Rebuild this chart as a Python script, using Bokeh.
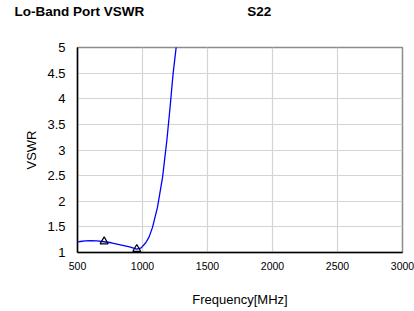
from bokeh.plotting import figure
from bokeh.models import FixedTicker, LinearAxis, Range1d
from bokeh.embed import file_html
from bokeh.resources import INLINE

# Data
freq_mhz = [500, 520, 560, 600, 650, 705, 760, 830, 900, 956, 990, 1025, 1050, 1077, 1115, 1154, 1187, 1212, 1235, 1262]
vswr = [1.20, 1.215, 1.225, 1.23, 1.228, 1.21, 1.19, 1.15, 1.11, 1.066, 1.09, 1.19, 1.30, 1.49, 1.88, 2.46, 3.18, 3.83, 4.48, 5.07]
marker_freq = [705, 956]
marker_vswr = [1.215, 1.066]
x_ticks = [500, 1000, 1500, 2000, 2500, 3000]
y_ticks = [1, 1.5, 2, 2.5, 3, 3.5, 4, 4.5, 5]
y_labels = ["1", "1.5", "2", "2.5", "3", "3.5", "4", "4.5", "5"]
title_texts = ["Lo-Band Port VSWR", "S22"]

FONT = "Liberation Sans"
W, H = 414, 311
BL, BR, BT, BB = 77, 12, 47, 59
TITLE_POS = [514, 1898]  # horizontal anchor (x-axis units) of the two header texts

p = figure(width=W, height=H, output_backend="svg", toolbar_location=None,
           x_range=Range1d(500, 3000), y_range=Range1d(1, 5),
           min_border_left=BL, min_border_right=BR, min_border_top=BT, min_border_bottom=BB)
p.background_fill_color = "white"
p.border_fill_color = "white"
p.outline_line_color = "#8c8c8c"
p.outline_line_width = 1.5

p.line(freq_mhz, vswr, line_color="#0000ff", line_width=1.3)
p.scatter(marker_freq, marker_vswr, marker="triangle", size=8, fill_color=None,
          line_color="black", line_width=1.2)

for g in (p.xgrid[0], p.ygrid[0]):
    g.grid_line_color = "#d4d4d4"
    g.grid_line_width = 1.2
p.xgrid.ticker = FixedTicker(ticks=x_ticks)
p.ygrid.ticker = FixedTicker(ticks=y_ticks)

xa = p.xaxis[0]
xa.ticker = FixedTicker(ticks=x_ticks)
xa.axis_line_color = "black"
xa.axis_line_width = 1.5
xa.major_tick_line_color = None
xa.minor_tick_line_color = None
xa.major_label_text_font = FONT
xa.major_label_text_font_size = "10.5px"
xa.major_label_text_color = "black"
xa.major_label_standoff = 3
xa.axis_label = "Frequency[MHz]"
xa.axis_label_text_font = FONT
xa.axis_label_text_font_size = "13px"
xa.axis_label_text_font_style = "normal"
xa.axis_label_text_color = "black"
xa.axis_label_standoff = 19

ya = p.yaxis[0]
ya.ticker = FixedTicker(ticks=y_ticks)
ya.major_label_overrides = {t: l for t, l in zip(y_ticks, y_labels)}
ya.axis_line_color = "black"
ya.axis_line_width = 1.5
ya.major_tick_line_color = None
ya.minor_tick_line_color = None
ya.major_label_text_font = FONT
ya.major_label_text_font_size = "13px"
ya.major_label_text_color = "black"
ya.major_label_standoff = 6
ya.axis_label = "VSWR"
ya.axis_label_text_font = FONT
ya.axis_label_text_font_size = "13px"
ya.axis_label_text_font_style = "normal"
ya.axis_label_text_color = "black"
ya.axis_label_standoff = 5

# Header texts drawn as labels of an invisible axis above the frame
top = LinearAxis(ticker=FixedTicker(ticks=TITLE_POS),
                 major_label_overrides={t: s for t, s in zip(TITLE_POS, title_texts)},
                 axis_line_color=None, major_tick_line_color=None, minor_tick_line_color=None,
                 major_label_text_font=FONT, major_label_text_font_size="13.5px",
                 major_label_text_font_style="bold", major_label_text_color="black",
                 major_label_standoff=23)
p.add_layout(top, "above")

html = file_html(p, INLINE)
html = html.replace("</head>", "<style>html,body{overflow:hidden;}</style></head>", 1)
open("out.html", "w").write(html)
